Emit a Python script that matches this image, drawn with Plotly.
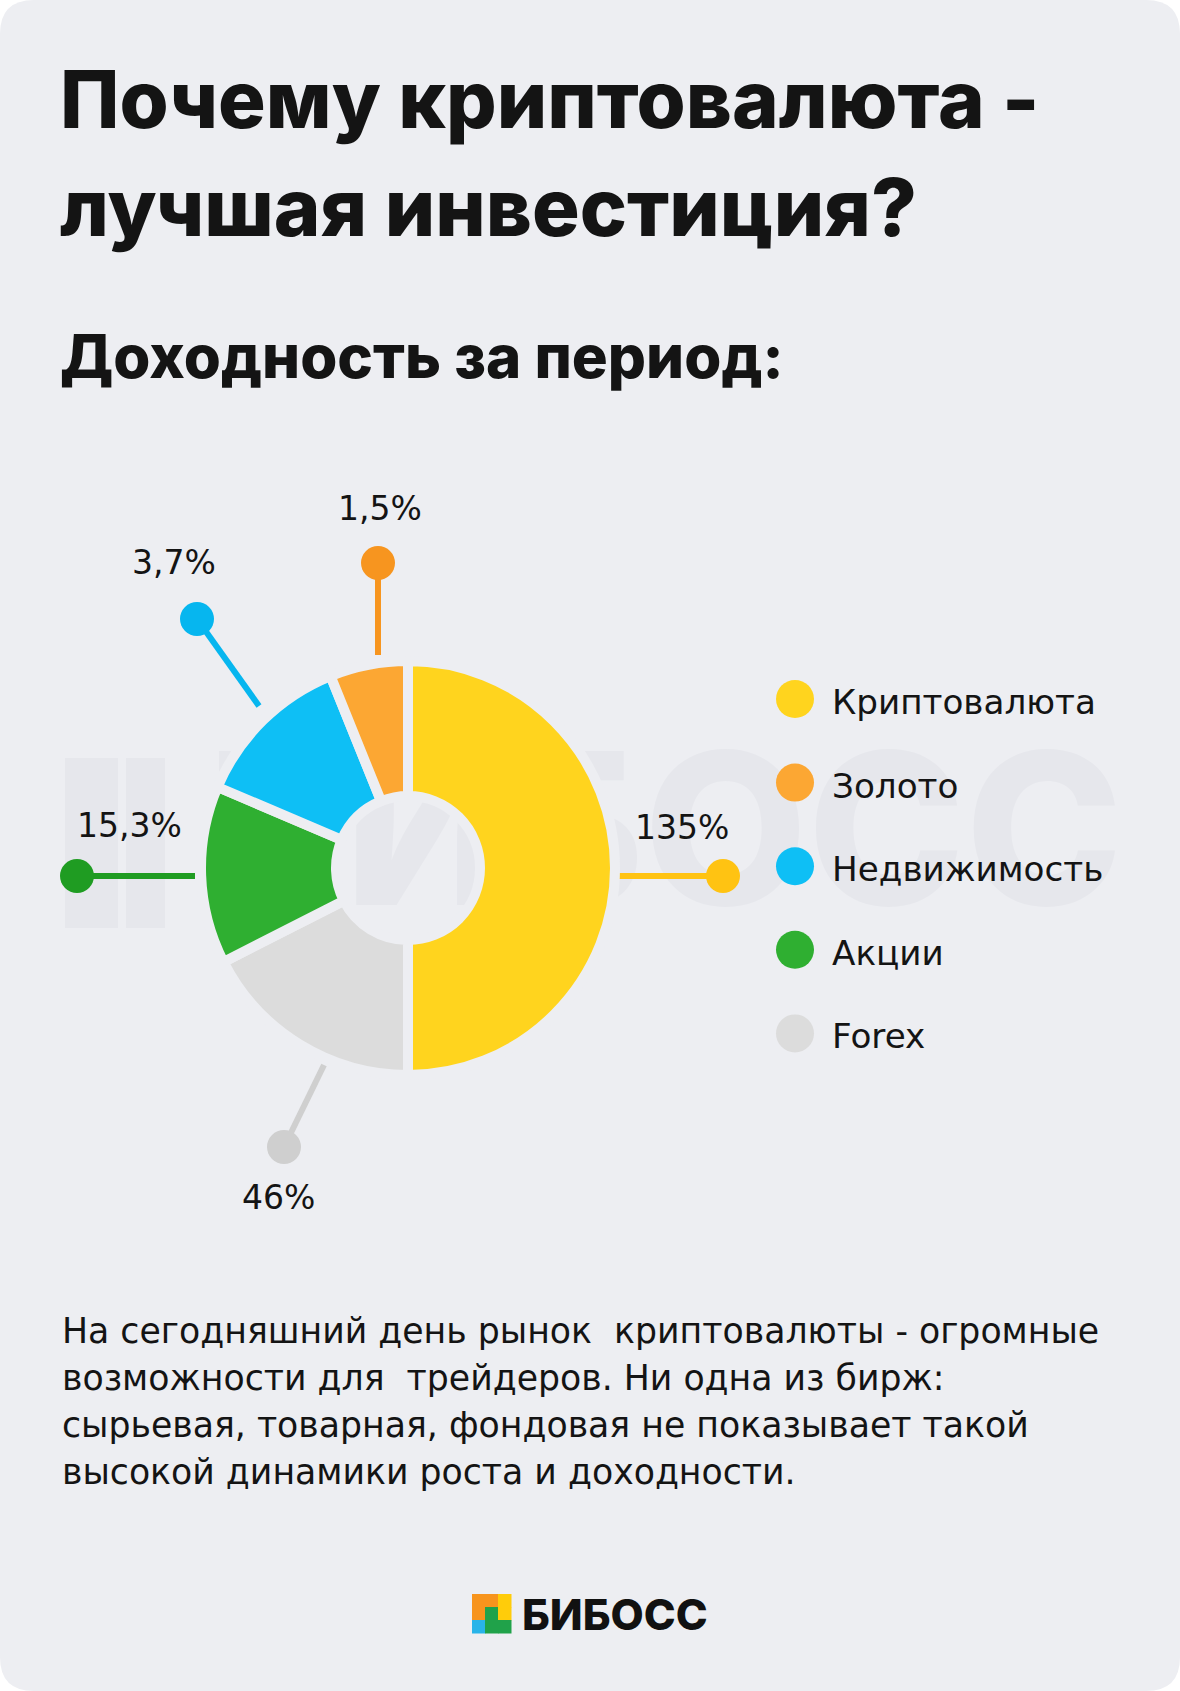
import plotly.graph_objects as go

# ---------------- data ----------------
categories = ["Криптовалюта", "Золото", "Недвижимость", "Акции", "Forex"]
slice_shares = [50.0, 6.1, 12.5, 13.9, 17.5]          # share of the donut, %
return_labels = ["135%", "1,5%", "3,7%", "15,3%", "46%"]  # yield for the period

title_lines = ["Почему криптовалюта -", "лучшая инвестиция?"]
subtitle = "Доходность за период:"
body_lines = [
    "На сегодняшний день рынок  криптовалюты - огромные",
    "возможности для  трейдеров. Ни одна из бирж:",
    "сырьевая, товарная, фондовая не показывает такой",
    "высокой динамики роста и доходности.",
]
brand = "БИБОСС"

# ---------------- style / layout ----------------
W, H = 1180, 1691
BG = "#EDEEF2"
INK = "#141414"
CX, CY = 408, 868          # donut centre (px)
R_VIS, HOLE_VIS, GAP = 202, 77, 10
R = R_VIS + GAP / 2
HOLE = (HOLE_VIS - GAP / 2) / R

slice_colors = ["#FFD41E", "#FCA733", "#0EBFF5", "#2FAF31", "#DCDCDC"]
callout_colors = ["#FFC312", "#F7951F", "#06B6EF", "#1F9C22", "#CFCFCF"]

# the donut is drawn clockwise from 12 o'clock in this order of categories
PIE_ORDER = [0, 4, 3, 2, 1]

# callout geometry relative to the donut centre: line start, dot, label centre
CALLOUTS = [
    ((210, 8), (315, 8), (274, -41)),
    ((-30, -213), (-30, -305), (-28, -360)),
    ((-149, -162), (-211, -249), (-234, -306)),
    ((-213, 8), (-331, 8), (-279, -43)),
    ((-84, 197), (-124, 279), (-130, 329)),
]
LEG_X, LEG_TX, LEG_Y0, LEG_DY = 795, 830, 699, 83.6

BODY_FONT = "DejaVu Sans"
HEAD_FONT = "Inter"
WM_COLOR = "#E6E7EC"

fig = go.Figure()

# watermark (under the donut)
fig.add_trace(go.Scatter(
    x=[665], y=[852], mode="text", text=[brand],
    textfont=dict(family=HEAD_FONT, size=212, color=WM_COLOR, weight=800),
    hoverinfo="skip", showlegend=False))

# callouts
for i, cat in enumerate(categories):
    (sx, sy), (dx, dy), _ = CALLOUTS[i]
    fig.add_trace(go.Scatter(
        x=[CX + sx, CX + dx], y=[CY + sy, CY + dy], mode="lines",
        line=dict(color=callout_colors[i], width=6),
        hoverinfo="skip", showlegend=False))
    fig.add_trace(go.Scatter(
        x=[CX + dx], y=[CY + dy], mode="markers",
        marker=dict(color=callout_colors[i], size=34, line=dict(width=0)),
        hoverinfo="skip", showlegend=False))

# legend markers
fig.add_trace(go.Scatter(
    x=[LEG_X] * len(categories),
    y=[LEG_Y0 + i * LEG_DY for i in range(len(categories))],
    mode="markers",
    marker=dict(color=slice_colors, size=38, line=dict(width=0)),
    hoverinfo="skip", showlegend=False))

# donut
fig.add_trace(go.Pie(
    labels=[categories[k] for k in PIE_ORDER],
    values=[slice_shares[k] for k in PIE_ORDER],
    hole=HOLE, sort=False, direction="clockwise", rotation=0,
    marker=dict(colors=[slice_colors[k] for k in PIE_ORDER], line=dict(color=BG, width=GAP)),
    textinfo="none", hoverinfo="label", showlegend=False,
    domain=dict(x=[(CX - R) / W, (CX + R) / W], y=[1 - (CY + R) / H, 1 - (CY - R) / H])))

ann = []
# title & subtitle
ann.append(dict(x=58, y=99, text=title_lines[0], xanchor="left", yanchor="middle",
                font=dict(family=HEAD_FONT, size=79.5, color=INK, weight=800)))
ann.append(dict(x=58, y=207, text=title_lines[1], xanchor="left", yanchor="middle",
                font=dict(family=HEAD_FONT, size=79.5, color=INK, weight=800)))
ann.append(dict(x=58, y=356, text=subtitle, xanchor="left", yanchor="middle",
                font=dict(family=HEAD_FONT, size=60, color=INK, weight=800)))
# percent labels
for i, lab in enumerate(return_labels):
    lx, ly = CALLOUTS[i][2]
    ann.append(dict(x=CX + lx, y=CY + ly, text=lab, xanchor="center", yanchor="middle",
                    font=dict(family=BODY_FONT, size=33, color=INK)))
# legend labels
for i, cat in enumerate(categories):
    ann.append(dict(x=LEG_TX, y=LEG_Y0 + i * LEG_DY + 3, text=cat, xanchor="left", yanchor="middle",
                    font=dict(family=BODY_FONT, size=34.2, color=INK)))
# body text
for i, line in enumerate(body_lines):
    ann.append(dict(x=60, y=1331 + i * 47, text=line.replace("  ", "&nbsp; "), xanchor="left",
                    yanchor="middle", font=dict(family=BODY_FONT, size=34.7, color=INK)))
# brand
ann.append(dict(x=520, y=1614, text=brand, xanchor="left", yanchor="middle",
                font=dict(family=HEAD_FONT, size=43, color="#111111", weight=800)))
for a in ann:
    a.update(xref="x", yref="y", showarrow=False)

shapes = []
rr = 34
shapes.append(dict(
    type="path", xref="x", yref="y", layer="below", line=dict(width=0), fillcolor=BG,
    path=(f"M {rr},0 L {W-rr},0 Q {W},0 {W},{rr} L {W},{H-rr} Q {W},{H} {W-rr},{H} "
          f"L {rr},{H} Q 0,{H} 0,{H-rr} L 0,{rr} Q 0,0 {rr},0 Z")))
# watermark logo bars
for x0, x1 in [(65, 118), (126, 165)]:
    shapes.append(dict(type="rect", xref="x", yref="y", layer="below", x0=x0, x1=x1, y0=758, y1=928,
                       fillcolor=WM_COLOR, line=dict(width=0)))
# brand logo (3x3 grid)
c = 13
lx0, ly0 = 472, 1594
logo = [["#F7941D", "#F7941D", "#FFCC0A"],
        ["#F7941D", "#20A24A", "#FFCC0A"],
        ["#29B4E9", "#20A24A", "#20A24A"]]
for r_ in range(3):
    for c_ in range(3):
        shapes.append(dict(type="rect", xref="x", yref="y", layer="above",
                           x0=lx0 + c_ * c, x1=lx0 + (c_ + 1) * c + 0.5,
                           y0=ly0 + r_ * c, y1=ly0 + (r_ + 1) * c + 0.5,
                           fillcolor=logo[r_][c_], line=dict(width=0)))

fig.update_layout(
    width=W, height=H, margin=dict(l=0, r=0, t=0, b=0),
    paper_bgcolor="#FFFFFF", plot_bgcolor="rgba(0,0,0,0)",
    xaxis=dict(range=[0, W], visible=False, fixedrange=True, domain=[0, 1]),
    yaxis=dict(range=[H, 0], visible=False, fixedrange=True, domain=[0, 1]),
    annotations=ann, shapes=shapes, showlegend=False,
)
fig.write_html("out.html", post_script="document.body.style.margin='0';",
               config={"displayModeBar": False})
